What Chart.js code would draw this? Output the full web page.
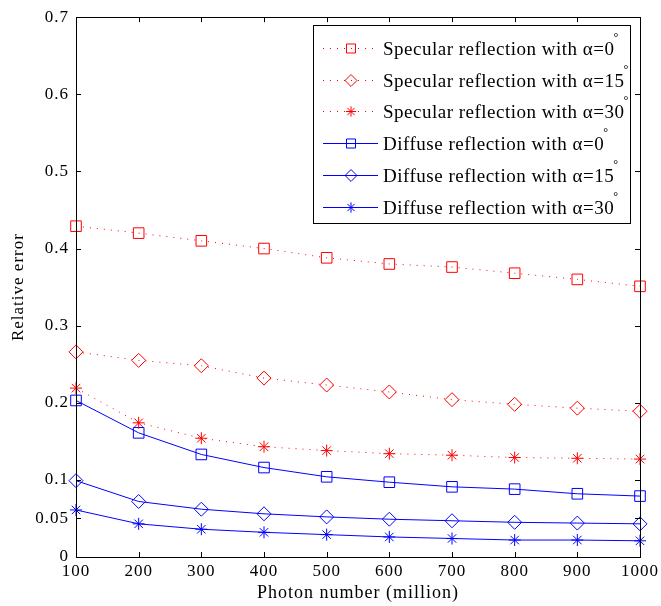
<!DOCTYPE html>
<html><head><meta charset="utf-8">
<script src="https://cdn.jsdelivr.net/npm/chart.js@4/dist/chart.umd.min.js"></script>
<style>html,body{margin:0;padding:0;background:#fff}#wrap{width:661px;height:606px;position:relative}</style>
</head><body><div id="wrap"><canvas id="c" width="661" height="606"></canvas></div>
<script>
const photonNumbers = [100, 200, 300, 400, 500, 600, 700, 800, 900, 1000];
const xTickValues = [100, 200, 300, 400, 500, 600, 700, 800, 900, 1000];
const yTickValues = [0, 0.05, 0.1, 0.2, 0.3, 0.4, 0.5, 0.6, 0.7];
const specular0  = [0.429, 0.420, 0.410, 0.400, 0.388, 0.380, 0.376, 0.368, 0.360, 0.351];
const specular15 = [0.266, 0.255, 0.248, 0.232, 0.223, 0.214, 0.204, 0.198, 0.193, 0.189];
const specular30 = [0.219, 0.174, 0.154, 0.143, 0.138, 0.134, 0.132, 0.129, 0.128, 0.127];
const diffuse0   = [0.203, 0.161, 0.133, 0.116, 0.104, 0.097, 0.091, 0.088, 0.082, 0.079];
const diffuse15  = [0.099, 0.072, 0.062, 0.056, 0.052, 0.049, 0.047, 0.045, 0.044, 0.043];
const diffuse30  = [0.061, 0.043, 0.036, 0.032, 0.029, 0.026, 0.024, 0.022, 0.022, 0.021];
const seriesNames = [
  'Specular reflection with \u03b1=0', 'Specular reflection with \u03b1=15', 'Specular reflection with \u03b1=30',
  'Diffuse reflection with \u03b1=0', 'Diffuse reflection with \u03b1=15', 'Diffuse reflection with \u03b1=30'
];
const degreeSign = '\u00b0';
const xTitle = 'Photon number (million)';
const yTitle = 'Relative error';

const RED = '#ff0000', BLUE = '#0000ff';
const FONT = '"Liberation Serif", "Times New Roman", serif';

function mk(label, vals, color, dotted, style, radius) {
  return {
    label, data: photonNumbers.map((x, i) => ({x, y: vals[i]})),
    borderColor: color, backgroundColor: 'rgba(0,0,0,0)', borderWidth: 1,
    borderDash: dotted ? [1, 6] : [], pointStyle: style, pointRadius: radius,
    pointBorderColor: color, pointBackgroundColor: 'rgba(0,0,0,0)', pointBorderWidth: 1,
    pointHoverRadius: radius, tension: 0, clip: false
  };
}
const datasets = [
  mk(seriesNames[0], specular0, RED, true, 'rect', 7.5),
  mk(seriesNames[1], specular15, RED, true, 'rectRot', 7),
  mk(seriesNames[2], specular30, RED, true, 'star', 6),
  mk(seriesNames[3], diffuse0, BLUE, false, 'rect', 7.5),
  mk(seriesNames[4], diffuse15, BLUE, false, 'rectRot', 7),
  mk(seriesNames[5], diffuse30, BLUE, false, 'star', 6),
];

const spacing = {
  id: 'spacing',
  beforeDraw(chart) { try { chart.ctx.letterSpacing = '1px'; } catch (e) {} },
  afterDraw(chart) { try { chart.ctx.letterSpacing = '0px'; } catch (e) {} }
};

const boxTicks = {
  id: 'boxTicks',
  afterDatasetsDraw(chart) {
    const {ctx, chartArea: a, scales} = chart;
    ctx.save();
    ctx.setLineDash([]);
    ctx.strokeStyle = '#000'; ctx.lineWidth = 1;
    ctx.strokeRect(Math.round(a.left) + 0.5, Math.round(a.top) + 0.5, Math.round(a.right - a.left), Math.round(a.bottom - a.top));
    const L = 5;
    ctx.beginPath();
    xTickValues.forEach(v => {
      const px = Math.round(scales.x.getPixelForValue(v)) + 0.5;
      ctx.moveTo(px, a.bottom); ctx.lineTo(px, a.bottom - L);
      ctx.moveTo(px, a.top); ctx.lineTo(px, a.top + L);
    });
    yTickValues.forEach(v => {
      const py = Math.round(scales.y.getPixelForValue(v)) + 0.5;
      ctx.moveTo(a.left, py); ctx.lineTo(a.left + L, py);
      ctx.moveTo(a.right, py); ctx.lineTo(a.right - L, py);
    });
    ctx.stroke();
    ctx.restore();
  }
};

const legendBox = {
  id: 'legendBox',
  afterDraw(chart) {
    const ctx = chart.ctx;
    const bx = 313.5, by = 25.5, bw = 317, bh = 198;
    ctx.save();
    ctx.fillStyle = '#fff';
    ctx.fillRect(bx, by, bw, bh);
    ctx.strokeStyle = '#000'; ctx.lineWidth = 1;
    ctx.strokeRect(bx, by, bw, bh);
    const rows = [48, 80, 111, 143, 175, 207];
    chart.data.datasets.forEach((ds, i) => {
      const y = rows[i];
      ctx.save();
      ctx.strokeStyle = ds.borderColor; ctx.lineWidth = 1;
      ctx.setLineDash(ds.borderDash);
      ctx.beginPath(); ctx.moveTo(323, y + 0.5); ctx.lineTo(378, y + 0.5); ctx.stroke();
      ctx.restore();
      ctx.save();
      ctx.strokeStyle = ds.pointBorderColor; ctx.fillStyle = 'rgba(0,0,0,0)'; ctx.lineWidth = 1;
      ctx.setLineDash([]);
      Chart.helpers.drawPoint(ctx, {pointStyle: ds.pointStyle, radius: ds.pointRadius * 0.85, borderWidth: 1, rotation: 0}, 351, y + 0.5);
      ctx.restore();
      ctx.save();
      try { ctx.letterSpacing = '0.5px'; } catch (e) {}
      ctx.fillStyle = '#000';
      ctx.font = '19px ' + FONT;
      ctx.textBaseline = 'middle'; ctx.textAlign = 'left';
      ctx.fillText(ds.label, 383, y + 2);
      const w = ctx.measureText(ds.label).width;
      try { ctx.letterSpacing = '0px'; } catch (e) {}
      ctx.font = '12px ' + FONT;
      ctx.fillText(degreeSign, 383 + w - 1, y - 10);
      ctx.restore();
    });
    ctx.restore();
  }
};

new Chart(document.getElementById('c'), {
  type: 'line',
  data: {datasets},
  options: {
    responsive: false, animation: false, devicePixelRatio: 1,
    layout: {padding: {left: 0, top: 14, right: 21, bottom: 0}},
    plugins: {legend: {display: false}, tooltip: {enabled: false}},
    scales: {
      x: {
        type: 'linear', min: 100, max: 1000,
        afterBuildTicks: s => { s.ticks = xTickValues.map(v => ({value: v})); },
        afterFit: s => { s.height = 49; },
        grid: {display: false, drawTicks: false},
        border: {display: false},
        ticks: {color: '#000', font: {family: FONT, size: 17}, padding: 4, maxRotation: 0, autoSkip: false,
          callback: v => String(v)},
        title: {display: true, text: xTitle, color: '#000', font: {family: FONT, size: 18}, padding: {top: 0, bottom: 2}}
      },
      y: {
        type: 'linear', min: 0, max: 0.7,
        afterBuildTicks: s => { s.ticks = yTickValues.map(v => ({value: v})); },
        afterFit: s => { s.width = 76; },
        grid: {display: false, drawTicks: false},
        border: {display: false},
        ticks: {color: '#000', font: {family: FONT, size: 17}, padding: 7, autoSkip: false,
          callback: v => String(v)},
        title: {display: true, text: yTitle, color: '#000', font: {family: FONT, size: 17}, padding: {top: 8, bottom: 0}}
      }
    }
  },
  plugins: [spacing, boxTicks, legendBox]
});
</script></body></html>
